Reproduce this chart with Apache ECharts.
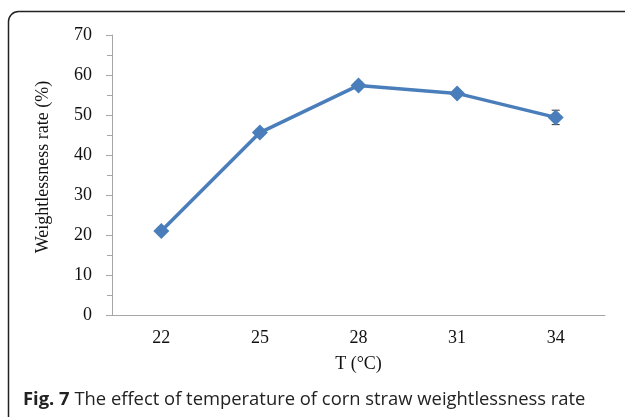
<!DOCTYPE html>
<html>
<head>
<meta charset="utf-8">
<script src="https://cdn.jsdelivr.net/npm/echarts@6/dist/echarts.min.js"></script>
<style>
  html, body { margin: 0; padding: 0; background: #fff; }
  #chart { width: 625px; height: 417px; }
</style>
</head>
<body>
<div id="chart"></div>
<script>
// temperature (°C) vs weightlessness rate (%)
const temps = ['22', '25', '28', '31', '34']
const rates = [21.0, 45.6, 57.4, 55.4, 49.4]
const errors = [0.6, 0.8, 0.8, 0.7, 1.8]
const yTicks = { min: 0, max: 70, interval: 10 }

const serif = 'Liberation Serif'
const blue = '#4a7ebb'

const chart = echarts.init(document.getElementById('chart'))

chart.setOption({
  animation: false,
  graphic: [
    {
      type: 'rect',
      shape: { x: 8.5, y: 11.5, width: 700, height: 500, r: 10 },
      style: { fill: 'none', stroke: '#222', lineWidth: 1.5 },
      z: 0
    },
    {
      type: 'text',
      left: 23,
      top: 391,
      style: {
        text: '{b|Fig. 7} The effect of temperature of corn straw weightlessness rate',
        font: '18.4px "Open Sans"',
        fill: '#222',
        rich: {
          b: { fontWeight: 'bold', fontSize: 18.4, fontFamily: 'Open Sans', fill: '#222' }
        }
      }
    }
  ],
  grid: { left: 112, right: 20, top: 35, bottom: 102 },
  xAxis: {
    type: 'category',
    data: temps,
    boundaryGap: true,
    name: 'T (°C)',
    nameLocation: 'middle',
    nameGap: 40,
    nameTextStyle: { fontFamily: serif, fontSize: 18, color: '#111' },
    axisLine: { lineStyle: { color: '#a6a6a6', width: 1 } },
    axisTick: { alignWithLabel: false, length: 5, lineStyle: { color: '#a6a6a6' } },
    axisLabel: { fontFamily: serif, fontSize: 18, color: '#111', margin: 14 }
  },
  yAxis: {
    type: 'value',
    min: yTicks.min,
    max: yTicks.max,
    interval: yTicks.interval,
    name: 'Weightlessness rate (%)',
    nameLocation: 'middle',
    nameGap: 60,
    nameTextStyle: { fontFamily: serif, fontSize: 18, color: '#111', padding: [0, 0, 0, 16] },
    axisLine: { show: true, lineStyle: { color: '#a6a6a6', width: 1 } },
    axisTick: { show: true, length: 6, lineStyle: { color: '#a6a6a6' } },
    minorTick: { show: true, splitNumber: 2, length: 5, lineStyle: { color: '#a6a6a6' } },
    splitLine: { show: false },
    axisLabel: { fontFamily: serif, fontSize: 18, color: '#111', margin: 20 }
  },
  series: [
    {
      type: 'line',
      data: rates,
      symbol: 'diamond',
      symbolSize: 16,
      lineStyle: { color: blue, width: 3.5 },
      itemStyle: { color: blue },
      z: 3
    },
    {
      type: 'custom',
      data: rates.map((v, i) => [i, v - errors[i], v + errors[i]]),
      renderItem(params, api) {
        const lo = api.coord([api.value(0), api.value(1)])
        const hi = api.coord([api.value(0), api.value(2)])
        const w = 4
        const st = { stroke: '#333', lineWidth: 1 }
        return {
          type: 'group',
          children: [
            { type: 'line', shape: { x1: lo[0], y1: lo[1], x2: hi[0], y2: hi[1] }, style: st },
            { type: 'line', shape: { x1: lo[0] - w, y1: lo[1], x2: lo[0] + w, y2: lo[1] }, style: st },
            { type: 'line', shape: { x1: hi[0] - w, y1: hi[1], x2: hi[0] + w, y2: hi[1] }, style: st }
          ]
        }
      },
      z: 2
    }
  ]
})
</script>
</body>
</html>
